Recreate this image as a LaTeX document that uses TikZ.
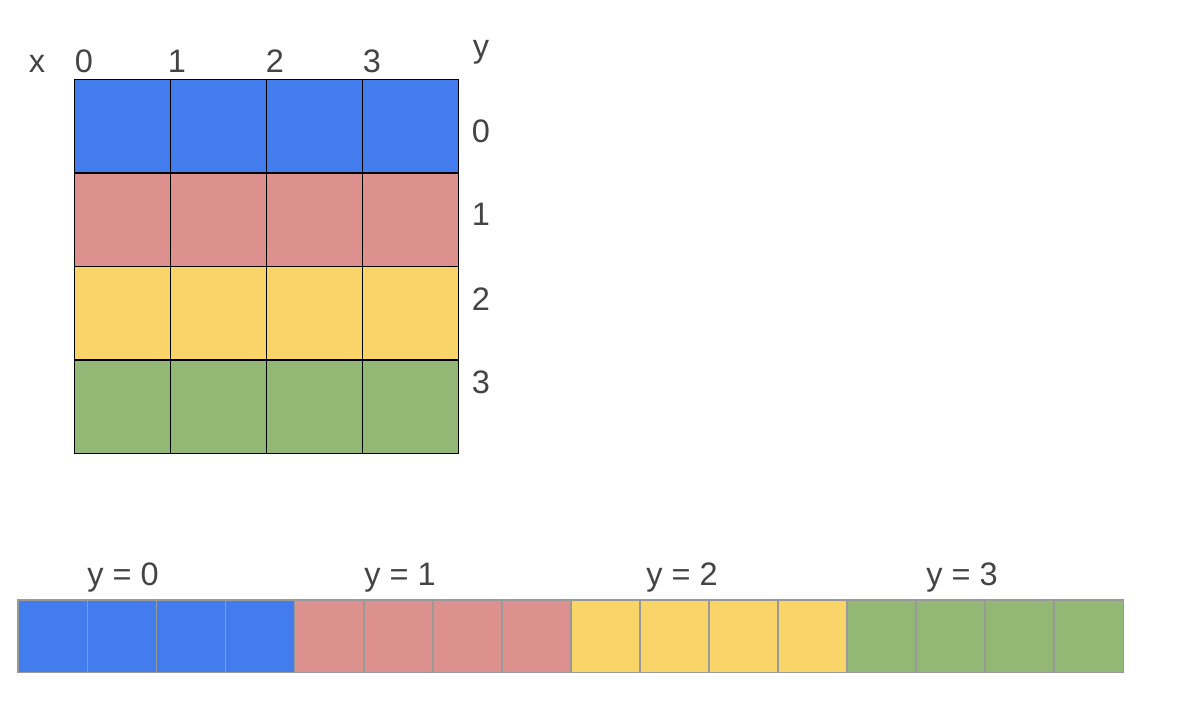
\documentclass[tikz,border=0pt]{standalone}
\usepackage{fontspec}
\setmainfont{Liberation Sans}
\definecolor{cblue}{HTML}{437CEC}
\definecolor{cred}{HTML}{DC918F}
\definecolor{cyellow}{HTML}{F9D468}
\definecolor{cgreen}{HTML}{93B875}
\definecolor{txtgray}{HTML}{444444}

\begin{document}
\begin{tikzpicture}[
  x=0.02cm, y=-0.02cm,
  cell/.style={rectangle,minimum width=1.92cm,minimum height=1.87cm,inner sep=0pt,anchor=north west},
  slot/.style={rectangle,minimum width=1.381cm,minimum height=1.44cm,inner sep=0pt,anchor=north west},
  lbl/.style={text=txtgray,font=\fontsize{18.5}{20}\selectfont,anchor=base,inner sep=0pt}
]
\useasboundingbox (0,0) rectangle (1191,703);
% 4x4 grid
\foreach \r/\c in {0/cblue,1/cred,2/cyellow,3/cgreen}
  \foreach \i in {0,...,3}
    \node[cell,fill=\c] (g\i\r) at (74+96*\i,79+93.5*\r) {};
\foreach \r in {0,...,3}
  \foreach \i in {0,...,3}
    \draw[line width=0.55pt] (g\i\r.north west) rectangle (g\i\r.south east);
\node[lbl] (xl) at (37,72.7) {x};
\node[lbl] (yl) at (481,57) {y};
\foreach \i/\px in {0/84,1/177,2/275,3/372}
  \node[lbl] (x\i) at (\px,72.7) {\i};
\foreach \r/\py in {0/142,1/225,2/310,3/393}
  \node[lbl] (y\r) at (481,\py) {\r};
% flattened rows
\foreach \r/\c in {0/cblue,1/cred,2/cyellow,3/cgreen}
  \foreach \i in {0,...,3}
    \node[slot,fill=\c] (s\r\i) at (18+276.25*\r+69.06*\i,600) {};
\foreach \r in {0,...,3}
  \foreach \i in {0,...,3}
    \draw[black!40,line width=0.6pt] (s\r\i.north west) rectangle (s\r\i.south east);
\foreach \r/\px in {0/123,1/400,2/682,3/962}
  \node[lbl] (row\r) at (\px,585) {y = \r};
\end{tikzpicture}
\end{document}
